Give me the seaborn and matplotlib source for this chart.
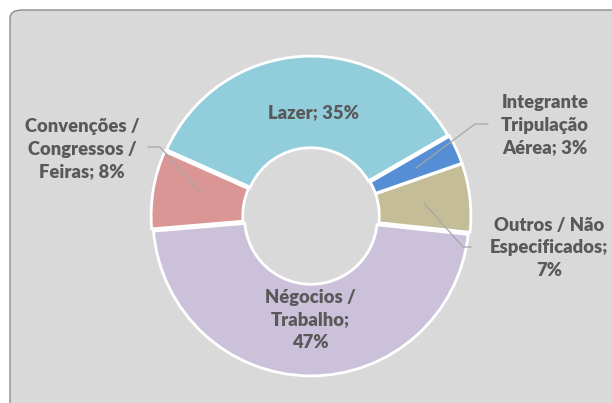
import matplotlib
matplotlib.use("Agg")
import matplotlib.pyplot as plt
import seaborn as sns
from matplotlib.patches import FancyBboxPatch

sns.set_theme(style="white")
plt.rcParams['font.family'] = ['Lato', 'DejaVu Sans']

# dados
categorias = ['Lazer', 'Integrante Tripulação Aérea', 'Outros / Não Especificados',
              'Négocios / Trabalho', 'Convenções / Congressos / Feiras']
valores = [35, 3, 7, 47, 8]
cores = ['#92CDDC', '#558ED5', '#C4BD97', '#CCC1DA', '#D99694']
rotulos = ['Lazer; 35%', 'Integrante\nTripulação\nAérea; 3%', 'Outros / Não\nEspecificados;\n7%',
           'Négocios /\nTrabalho;\n47%', 'Convenções /\nCongressos /\nFeiras; 8%']

W, H = 612, 403
cx, cy, r = 311, 216, 158

fig = plt.figure(figsize=(W / 100, H / 100), dpi=100)
fig.patch.set_facecolor('white')

# fundo arredondado
fundo = FancyBboxPatch((10 / W, -20 / H), (W + 10) / W, (H + 10) / H,
                       boxstyle="round,pad=0,rounding_size=0.02",
                       transform=fig.transFigure, facecolor='#D9D9D9',
                       edgecolor='#8C8C8C', linewidth=1.0, zorder=-5)
fig.patches.append(fundo)

ax = fig.add_axes([0, 0, 1, 1])
ax.set_facecolor('none')
ax.set_zorder(1)

ax.pie(valores, colors=cores, startangle=156, counterclock=False,
       explode=[0.012] * len(valores), radius=1.0,
       wedgeprops=dict(width=0.58, edgecolor='white', linewidth=2))

ax.set_aspect('auto')
ax.set_xlim((0 - cx) / r, (W - cx) / r)
ax.set_ylim((cy - H) / r, cy / r)
ax.axis('off')


def px(x, y):
    return ((x - cx) / r, (cy - y) / r)


estilo = dict(ha='center', va='center', fontsize=13.2, fontweight='heavy',
              color='#595959', linespacing=1.4)

posicoes = [px(313, 113), px(545, 125), px(549, 248), px(310, 320), px(82, 149)]
for txt, pos in zip(rotulos, posicoes):
    ax.text(pos[0], pos[1], txt, **estilo)

# linhas de chamada
linhas = [
    [px(148, 147), px(160, 147), px(200, 192)],
    [px(488, 124), px(475, 124), px(416, 168)],
    [px(424, 203), px(463, 247), px(471, 247)],
]
for pts in linhas:
    xs, ys = zip(*pts)
    ax.plot(xs, ys, color='#A6A6A6', linewidth=0.9)

fig.savefig('out.png', dpi=100)
